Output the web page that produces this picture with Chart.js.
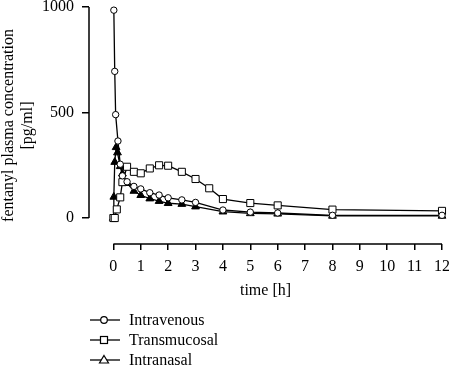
<!DOCTYPE html>
<html>
<head>
<meta charset="utf-8">
<script src="https://cdn.jsdelivr.net/npm/chart.js@4/dist/chart.umd.min.js"></script>
<style>
  html, body { margin: 0; padding: 0; background: #fff; }
  #wrap { position: relative; width: 449px; height: 369px; }
  #legend {
    position: absolute; left: 90px; top: 310px;
    font-family: "Liberation Serif", "DejaVu Serif", serif; font-size: 16px; color: #000;
  }
  #legend .row { height: 20px; display: flex; align-items: center; }
  #legend svg { width: 30px; height: 20px; margin-right: 9px; }
</style>
</head>
<body>
<div id="wrap">
  <canvas id="chart" width="449" height="369"></canvas>
  <div id="legend"></div>
</div>
<script>
// sampling times [h] and concentrations [pg/ml]
const ivTimes = [0.017, 0.05, 0.083, 0.167, 0.25, 0.33, 0.5, 0.75, 1, 1.33, 1.67, 2, 2.5, 3, 4, 5, 6, 8, 12];
const ivValues = [985, 695, 490, 365, 255, 200, 172, 150, 138, 120, 109, 96, 86, 74, 38, 28, 24, 13, 13];

const tmTimes = [0, 0.05, 0.125, 0.25, 0.33, 0.5, 0.75, 1, 1.33, 1.67, 2, 2.5, 3, 3.5, 4, 5, 6, 8, 12];
const tmValues = [0, 0, 41, 98, 170, 243, 219, 212, 235, 250, 248, 219, 185, 141, 90, 71, 60, 40, 34];

const inTimes = [0, 0.017, 0.05, 0.1, 0.15, 0.25, 0.33, 0.5, 0.75, 1, 1.33, 1.67, 2, 2.5, 3, 4, 5, 6, 8, 12];
const inValues = [0, 100, 265, 335, 310, 245, 210, 165, 128, 108, 92, 80, 70, 66, 54, 30, 22, 20, 10, 10];

const xTicks = [0, 1, 2, 3, 4, 5, 6, 7, 8, 9, 10, 11, 12];
const yTicks = [0, 500, 1000];

const seriesNames = ['Intravenous', 'Transmucosal', 'Intranasal'];

const FONT = '"Liberation Serif", "DejaVu Serif", serif';

const toPoints = (ts, vs) => ts.map((t, i) => ({ x: t, y: vs[i] }));

// axis lines only span the data range, like the original figure
const axisLines = {
  id: 'axisLines',
  afterDraw(chart) {
    const { ctx, chartArea, scales } = chart;
    ctx.save();
    ctx.strokeStyle = '#000';
    ctx.lineWidth = 1.5;
    ctx.beginPath();
    ctx.moveTo(chartArea.left, scales.y.getPixelForValue(yTicks[0]));
    ctx.lineTo(chartArea.left, scales.y.getPixelForValue(yTicks[yTicks.length - 1]));
    ctx.moveTo(scales.x.getPixelForValue(xTicks[0]), chartArea.bottom);
    ctx.lineTo(scales.x.getPixelForValue(xTicks[xTicks.length - 1]), chartArea.bottom);
    ctx.stroke();
    ctx.restore();
  },
};

const base = {
  borderColor: '#000',
  borderWidth: 1.3,
  pointBorderColor: '#000',
  pointBorderWidth: 1,
  tension: 0,
  clip: false,
};

new Chart(document.getElementById('chart'), {
  type: 'line',
  data: {
    datasets: [
      { ...base, label: seriesNames[0], data: toPoints(ivTimes, ivValues),
        pointStyle: 'circle', pointRadius: 3.2, pointBackgroundColor: '#fff' },
      { ...base, label: seriesNames[1], data: toPoints(tmTimes, tmValues),
        pointStyle: 'rect', pointRadius: 5, pointBackgroundColor: '#fff' },
      { ...base, label: seriesNames[2], data: toPoints(inTimes, inValues),
        pointStyle: 'triangle', pointRadius: 4.5, pointBackgroundColor: '#000' },
    ],
  },
  options: {
    responsive: false,
    animation: false,
    layout: { padding: { left: 0, right: 7, top: 7, bottom: 65 } },
    plugins: { legend: { display: false }, tooltip: { enabled: false } },
    scales: {
      x: {
        type: 'linear',
        min: -0.89,
        max: 12,
        border: { display: false },
        grid: { drawOnChartArea: false, color: '#000', lineWidth: 1.5, tickLength: 6 },
        ticks: { color: '#000', font: { family: FONT, size: 16 }, padding: 7, maxRotation: 0,
          callback: (v) => String(v) },
        afterBuildTicks: (s) => { s.ticks = xTicks.map((v) => ({ value: v })); },
        afterFit: (s) => { s.height = 60; s.paddingLeft = 0; s.paddingRight = 0; },
        title: { display: true, text: 'time [h]', color: '#000', font: { family: FONT, size: 16 }, padding: 4 },
      },
      y: {
        min: -123,
        max: 1000,
        border: { display: false },
        grid: { drawOnChartArea: false, color: '#000', lineWidth: 1.5, tickLength: 7 },
        ticks: { color: '#000', font: { family: FONT, size: 16 }, padding: 8,
          callback: (v) => String(v) },
        afterBuildTicks: (s) => { s.ticks = yTicks.map((v) => ({ value: v })); },
        afterFit: (s) => { s.width = 89; s.paddingTop = 0; s.paddingBottom = 0; },
        title: { display: true, text: ['fentanyl plasma concentration', '[pg/ml]'], color: '#000',
          font: { family: FONT, size: 16, lineHeight: 1.15 }, padding: 0 },
      },
    },
  },
  plugins: [axisLines],
});

// legend: line with open marker, stacked vertically
const icons = [
  '<circle cx="14" cy="10" r="3.3" fill="#fff" stroke="#000" stroke-width="1.2"/>',
  '<rect x="10.5" y="6.5" width="7" height="7" fill="#fff" stroke="#000" stroke-width="1.2"/>',
  '<polygon points="14,5.5 18.5,13 9.5,13" fill="#fff" stroke="#000" stroke-width="1.2"/>',
];
document.getElementById('legend').innerHTML = seriesNames.map((name, i) =>
  `<div class="row"><svg viewBox="0 0 30 20"><line x1="0" y1="10" x2="30" y2="10" stroke="#000" stroke-width="1.3"/>${icons[i]}</svg>${name}</div>`
).join('');
</script>
</body>
</html>
